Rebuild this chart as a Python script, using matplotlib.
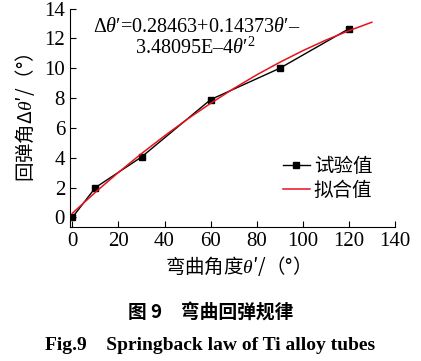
import matplotlib
matplotlib.use("Agg")
from matplotlib import pyplot as plt

plt.rcParams['font.family'] = ['Liberation Serif', 'Noto Sans CJK SC']
plt.rcParams['mathtext.fontset'] = 'custom'
plt.rcParams['mathtext.rm'] = 'Liberation Serif'
plt.rcParams['mathtext.it'] = 'Liberation Serif:italic'

# experimental points
exp_x = [0, 10, 30, 60, 90, 120]
exp_y = [0.0, 2.0, 4.05, 7.9, 10.0, 12.65]

# fitted curve
fit_x = [0, 10, 20, 30, 40, 50, 60, 70, 80, 90, 100, 110, 120, 130]
fit_y = [0.28, 1.69, 3.02, 4.28, 5.47, 6.60, 7.65, 8.64, 9.56, 10.40, 11.18, 11.89, 12.52, 13.09]

xticks = [0, 20, 40, 60, 80, 100, 120, 140]
yticks = [0, 2, 4, 6, 8, 10, 12, 14]

cjk = ['Noto Sans CJK SC', 'Liberation Serif']

fig = plt.figure(figsize=(4.21, 3.61), dpi=100)
ax = fig.add_axes([0.166, 0.371, 0.772, 0.605])

ax.plot(exp_x, exp_y, 'k-', marker='s', markersize=4.5, lw=1.0, label='试验值')
ax.plot(fit_x, fit_y, '-', color='#e8111c', lw=1.1, label='拟合值')

ax.set_xlim(-1.1, 140)
ax.set_ylim(-0.65, 14)
ax.set_xticks(xticks)
ax.set_yticks(yticks)
ax.spines['top'].set_visible(False)
ax.spines['right'].set_visible(False)
ax.tick_params(direction='in', length=4, labelsize=15, width=0.8)

ax.set_xlabel("弯曲角度$\\theta$′/（°）", fontsize=14, family=cjk, labelpad=2)
ax.set_ylabel("回弹角Δ$\\theta$′/（°）", fontsize=14, family=cjk, labelpad=5)

ax.text(0.07, 0.895, "Δ$\\theta$′=0.28463+0.14373$\\theta$′–", transform=ax.transAxes, fontsize=14.5)
ax.text(0.20, 0.795, "3.48095E–4$\\theta$′$^2$", transform=ax.transAxes, fontsize=14.5)

leg = ax.legend(loc='upper left', bbox_to_anchor=(0.625, 0.37), frameon=False,
                prop={'family': 'Noto Sans CJK SC', 'size': 14},
                handlelength=1.4, handletextpad=0.2, labelspacing=0.15, borderpad=0)

fig.text(0.5, 0.133, "图 9　弯曲回弹规律", ha='center', va='center', fontsize=13.5,
         family=cjk, weight='bold')
fig.text(0.5, 0.042, "Fig.9    Springback law of Ti alloy tubes", ha='center', va='center',
         fontsize=14, weight='bold', family=['Liberation Serif'])

fig.savefig('out.png', dpi=100)
